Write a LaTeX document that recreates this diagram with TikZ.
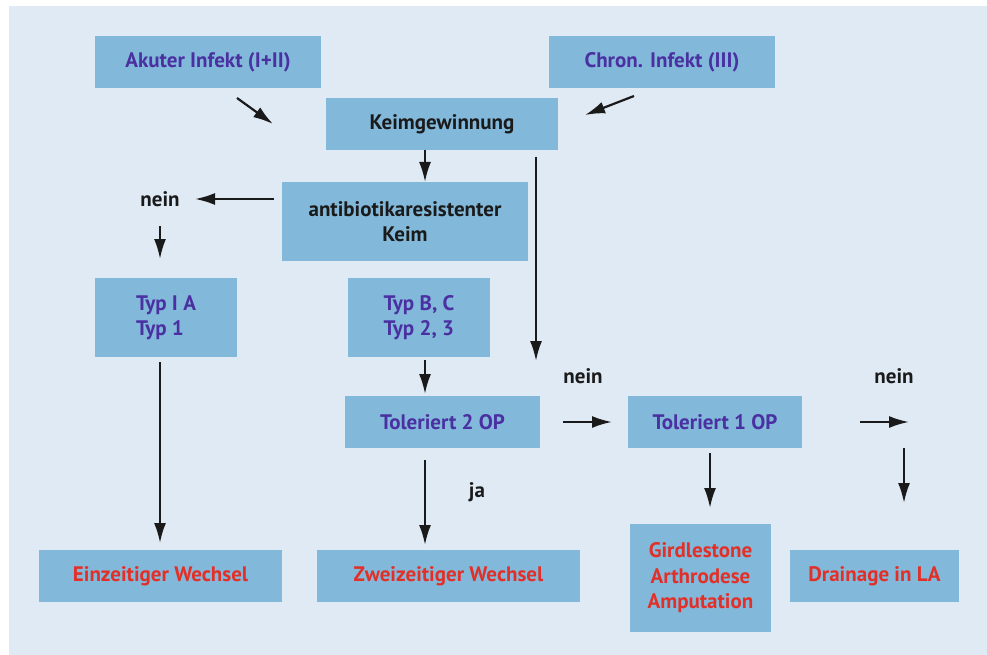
\documentclass[tikz,border=0pt]{standalone}
\usepackage{fontspec}
\setmainfont{PT Sans}
\usetikzlibrary{arrows.meta}
\definecolor{bgc}{RGB}{224,234,244}
\definecolor{boxc}{RGB}{130,185,219}
\definecolor{purp}{RGB}{74,48,160}
\definecolor{redt}{RGB}{226,48,40}
\definecolor{blk}{RGB}{26,26,26}
\begin{document}
\begin{tikzpicture}[x=1pt,y=-1pt,
  box/.style={fill=boxc, draw=none, inner sep=0pt, align=center,
    font=\bfseries\fontsize{21}{25.5}\selectfont},
  pbox/.style={box, text=purp},
  rbox/.style={box, text=redt},
  kbox/.style={box, text=blk},
  lbl/.style={inner sep=0pt, text=blk, font=\bfseries\fontsize{21}{25.5}\selectfont},
  arr/.style={draw=blk, line width=2.2pt, -{Latex[length=20pt,width=12pt]}}
]
\useasboundingbox (0,0) rectangle (987,655);
\fill[white] (0,0) rectangle (987,655);
\fill[bgc] (9,6) rectangle (987,655);

% boxes
\node[pbox, minimum width=226pt, minimum height=52pt] (akut) at (208,62) {Akuter Infekt (I+II)};
\node[pbox, minimum width=226pt, minimum height=52pt] (chron) at (662,62) {Chron. Infekt (III)};
\node[kbox, minimum width=232pt, minimum height=52pt] (keim) at (442,124) {Keimgewinnung};
\node[kbox, minimum width=246pt, minimum height=79pt] (anti) at (405,221.5) {antibiotikaresistenter\\Keim};
\node[pbox, minimum width=142pt, minimum height=79pt, align=left] (typa) at (166,317.5) {Typ I A\\Typ 1};
\node[pbox, minimum width=142pt, minimum height=79pt, align=left] (typb) at (419,317.5) {Typ B, C\\Typ 2, 3};
\node[pbox, minimum width=195pt, minimum height=52pt] (tol2) at (442.5,422) {Toleriert 2 OP};
\node[pbox, minimum width=174pt, minimum height=52pt] (tol1) at (715,422) {Toleriert 1 OP};
\node[rbox, minimum width=243pt, minimum height=52pt] (ein) at (160.5,576) {Einzeitiger Wechsel};
\node[rbox, minimum width=263pt, minimum height=52pt] (zwei) at (448.5,576) {Zweizeitiger Wechsel};
\node[rbox, minimum width=141pt, minimum height=108pt] (gird) at (700.5,578) {Girdlestone\\Arthrodese\\Amputation};
\node[rbox, minimum width=169pt, minimum height=52pt] (drain) at (874.5,576) {Drainage in LA};

% labels
\node[lbl] (nein1) at (160,199) {nein};
\node[lbl] (nein2) at (583,376) {nein};
\node[lbl] (nein3) at (894,376) {nein};
\node[lbl] (ja) at (477,492) {ja};

% free ends
\coordinate (a1) at (237,98);
\coordinate (a2) at (273,124);
\coordinate (c1) at (634,96);
\coordinate (c2) at (585,115);
\coordinate (k1) at (425,150);
\coordinate (k2) at (425,182);
\coordinate (l1) at (536,157);
\coordinate (l2) at (536,361);
\coordinate (n1) at (274,199);
\coordinate (n2) at (195,199);
\coordinate (d1) at (160,226);
\coordinate (d2) at (160,259);
\coordinate (t1) at (160,362);
\coordinate (t2) at (160,543);
\coordinate (b1) at (425,360);
\coordinate (b2) at (425,394);
\coordinate (r1) at (563,422);
\coordinate (r2) at (612,422);
\coordinate (z1) at (425,460);
\coordinate (z2) at (425,545);
\coordinate (g1) at (710,453);
\coordinate (g2) at (710,508);
\coordinate (s1) at (860,422);
\coordinate (s2) at (909,422);
\coordinate (e1) at (904,448);
\coordinate (e2) at (904,503);

\draw[arr] (a1) -- (a2);
\draw[arr] (c1) -- (c2);
\draw[arr] (k1) -- (k2);
\draw[arr] (l1) -- (l2);
\draw[arr] (n1) -- (n2);
\draw[arr] (d1) -- (d2);
\draw[arr] (t1) -- (t2);
\draw[arr] (b1) -- (b2);
\draw[arr] (r1) -- (r2);
\draw[arr] (z1) -- (z2);
\draw[arr] (g1) -- (g2);
\draw[arr] (s1) -- (s2);
\draw[arr] (e1) -- (e2);
\end{tikzpicture}
\end{document}
